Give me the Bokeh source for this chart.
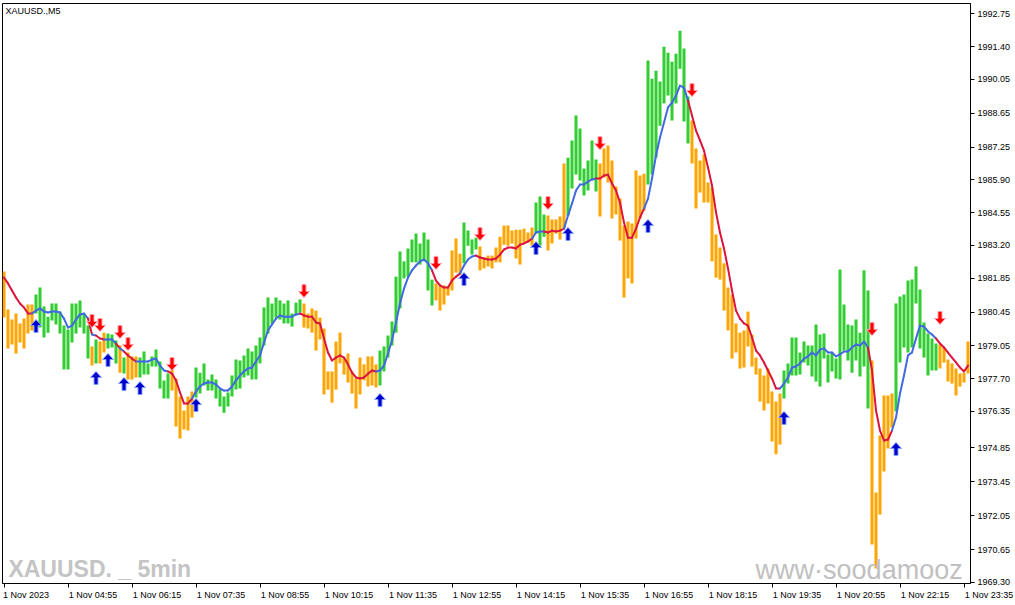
from bokeh.plotting import figure
from bokeh.models import Range1d, FixedTicker, PrintfTickFormatter, Label
from bokeh.core.properties import value
from bokeh.embed import file_html
from bokeh.resources import INLINE

# XAUUSD M5, 1 Nov 2023 03:35 .. 23:40, one entry per bar
highs = [
    1982.12, 1980.55, 1980.14, 1980.39, 1979.98, 1980.18, 1980.76, 1980.76, 1981.17, 1981.46,
    1980.68, 1980.26, 1980.80, 1980.80, 1980.47, 1979.89, 1979.73, 1980.80, 1980.80, 1980.93,
    1980.39, 1979.89, 1979.03, 1979.32, 1979.23, 1979.60, 1979.56, 1979.52, 1979.28, 1979.07,
    1978.57, 1978.78, 1978.62, 1978.62, 1978.57, 1978.82, 1978.33, 1978.62, 1978.90, 1978.41,
    1977.63, 1977.91, 1978.08, 1977.71, 1976.97, 1976.39, 1976.97, 1977.17, 1978.16, 1977.95,
    1978.33, 1977.67, 1977.87, 1977.67, 1977.30, 1976.97, 1977.13, 1977.83, 1978.49, 1978.45,
    1978.66, 1978.95, 1978.82, 1979.07, 1979.40, 1980.64, 1981.05, 1980.80, 1981.05, 1980.93,
    1980.80, 1980.93, 1980.39, 1980.84, 1980.97, 1980.80, 1980.39, 1980.60, 1980.51, 1980.22,
    1979.77, 1978.00, 1978.00, 1979.23, 1979.60, 1978.53, 1978.74, 1978.00, 1977.71, 1978.57,
    1978.29, 1978.62, 1978.62, 1978.29, 1978.86, 1979.03, 1979.48, 1980.06, 1981.91, 1982.95,
    1982.54, 1983.07, 1983.44, 1983.69, 1983.28, 1983.73, 1983.44, 1981.79, 1981.63, 1981.51,
    1981.55, 1981.51, 1982.99, 1983.48, 1982.86, 1984.14, 1983.81, 1983.44, 1983.52, 1983.15,
    1982.70, 1982.78, 1982.78, 1983.11, 1983.56, 1984.02, 1984.02, 1983.81, 1983.85, 1983.85,
    1983.89, 1983.73, 1983.94, 1984.97, 1985.22, 1984.47, 1984.43, 1984.27, 1984.27, 1984.39,
    1986.58, 1986.82, 1987.53, 1988.56, 1988.02, 1986.37, 1986.70, 1987.53, 1986.74, 1986.58,
    1987.20, 1987.32, 1986.70, 1985.63, 1985.13, 1984.02, 1984.19, 1984.10, 1986.29, 1986.08,
    1986.16, 1990.83, 1990.08, 1990.41, 1989.96, 1991.40, 1991.15, 1990.78, 1991.11, 1992.06,
    1991.32, 1989.34, 1988.35, 1987.20, 1986.70, 1986.95, 1985.79, 1985.59, 1983.65, 1983.11,
    1982.46, 1981.46, 1981.17, 1979.98, 1979.60, 1979.69, 1980.47, 1979.52, 1978.57, 1978.12,
    1977.83, 1978.12, 1977.17, 1976.76, 1977.09, 1978.04, 1978.33, 1979.40, 1979.40, 1978.78,
    1979.23, 1979.07, 1979.07, 1979.94, 1979.52, 1979.56, 1978.70, 1978.78, 1978.53, 1982.21,
    1980.76, 1979.94, 1979.89, 1980.14, 1979.60, 1982.17, 1981.34, 1978.45, 1973.00, 1975.36,
    1977.01, 1977.01, 1977.09, 1980.80, 1981.09, 1981.17, 1981.75, 1981.79, 1982.33, 1981.38,
    1980.02, 1979.56, 1979.36, 1979.15, 1979.11, 1978.99, 1978.49, 1978.33, 1978.12, 1977.91,
    1977.95, 1979.23,
]

lows = [
    1980.22, 1978.95, 1979.11, 1978.74, 1979.19, 1978.95, 1979.56, 1979.69, 1980.39, 1979.81,
    1979.40, 1979.60, 1980.10, 1979.94, 1979.56, 1978.08, 1978.08, 1979.19, 1979.56, 1979.81,
    1979.56, 1978.53, 1978.24, 1978.33, 1978.33, 1978.78, 1978.95, 1978.99, 1978.33, 1977.95,
    1977.91, 1977.67, 1977.67, 1977.75, 1977.75, 1977.87, 1977.87, 1978.20, 1978.20, 1977.30,
    1976.88, 1976.88, 1977.21, 1975.73, 1975.23, 1975.60, 1975.56, 1976.10, 1976.92, 1977.09,
    1977.42, 1977.21, 1977.21, 1976.88, 1976.55, 1976.30, 1976.55, 1976.97, 1977.25, 1977.30,
    1977.75, 1977.83, 1977.67, 1977.67, 1978.33, 1979.07, 1979.56, 1979.98, 1980.22, 1980.14,
    1979.98, 1979.98, 1979.85, 1980.31, 1980.43, 1979.81, 1979.77, 1979.60, 1978.86, 1979.32,
    1977.05, 1977.25, 1976.71, 1977.25, 1978.33, 1977.87, 1977.54, 1977.09, 1976.47, 1977.05,
    1977.63, 1977.38, 1977.42, 1977.34, 1977.42, 1978.00, 1978.57, 1979.07, 1979.60, 1980.60,
    1981.84, 1981.91, 1982.50, 1982.50, 1982.41, 1982.54, 1981.34, 1980.72, 1980.93, 1980.51,
    1980.76, 1981.13, 1981.34, 1982.08, 1981.96, 1982.46, 1983.19, 1982.82, 1983.03, 1982.17,
    1982.25, 1982.33, 1982.25, 1982.50, 1982.50, 1983.23, 1983.19, 1983.28, 1982.66, 1982.41,
    1983.32, 1983.32, 1983.19, 1983.69, 1983.19, 1983.56, 1982.99, 1983.28, 1983.69, 1983.44,
    1983.89, 1984.43, 1985.55, 1986.12, 1985.88, 1985.26, 1985.46, 1985.88, 1985.42, 1984.39,
    1986.00, 1985.79, 1984.31, 1984.47, 1983.40, 1981.05, 1981.84, 1981.63, 1983.48, 1984.31,
    1984.64, 1985.71, 1986.12, 1986.82, 1988.14, 1989.05, 1989.38, 1988.35, 1989.05, 1990.49,
    1988.31, 1987.40, 1986.58, 1984.72, 1985.38, 1984.97, 1984.97, 1982.54, 1981.87, 1981.79,
    1980.51, 1979.69, 1978.53, 1978.78, 1978.12, 1978.16, 1979.03, 1978.20, 1977.87, 1976.76,
    1976.39, 1976.68, 1975.11, 1974.58, 1974.99, 1976.88, 1977.50, 1977.83, 1977.83, 1977.87,
    1978.37, 1978.24, 1977.79, 1977.58, 1977.38, 1978.53, 1977.54, 1978.00, 1977.71, 1977.67,
    1978.86, 1978.45, 1977.95, 1978.45, 1977.79, 1978.20, 1976.47, 1970.86, 1969.87, 1972.10,
    1973.87, 1974.82, 1975.69, 1976.35, 1978.37, 1978.99, 1978.78, 1978.99, 1980.80, 1978.95,
    1978.57, 1977.83, 1978.04, 1978.04, 1978.12, 1978.37, 1977.58, 1977.50, 1977.01, 1977.38,
    1977.54, 1977.91,
]

# 1 = bullish bar (green), 0 = bearish bar (orange)
bull = [
    0, 0, 0, 0, 0, 0, 0, 0, 1, 1,
    1, 1, 1, 1, 1, 1, 1, 1, 1, 1,
    1, 1, 0, 1, 0, 0, 1, 1, 1, 0,
    1, 0, 0, 0, 1, 1, 1, 1, 1, 1,
    1, 1, 0, 0, 0, 0, 0, 0, 1, 1,
    1, 1, 1, 1, 1, 1, 1, 1, 1, 1,
    1, 1, 1, 1, 1, 1, 1, 1, 1, 1,
    1, 1, 1, 1, 1, 0, 0, 0, 0, 0,
    0, 0, 0, 0, 0, 0, 0, 0, 0, 0,
    0, 0, 0, 0, 1, 1, 1, 1, 1, 1,
    1, 1, 1, 1, 1, 1, 1, 1, 0, 0,
    0, 0, 0, 0, 0, 1, 1, 1, 1, 0,
    0, 0, 0, 0, 0, 0, 0, 0, 0, 0,
    0, 0, 0, 1, 1, 1, 0, 0, 0, 0,
    0, 1, 1, 1, 1, 1, 1, 1, 1, 0,
    0, 0, 0, 0, 0, 0, 0, 0, 0, 0,
    0, 1, 1, 1, 1, 1, 1, 1, 1, 1,
    1, 1, 0, 0, 0, 0, 0, 0, 0, 0,
    0, 0, 0, 0, 0, 0, 0, 0, 0, 0,
    0, 0, 0, 0, 0, 1, 1, 1, 1, 1,
    1, 1, 1, 1, 1, 1, 1, 1, 1, 1,
    1, 1, 1, 1, 1, 1, 1, 0, 0, 0,
    0, 0, 0, 1, 1, 1, 1, 1, 1, 1,
    1, 1, 1, 1, 0, 0, 0, 0, 0, 0,
    0, 0,
]

# smoothed trend line
trend_line = [
    1981.87, 1981.63, 1981.34, 1981.05, 1980.80, 1980.64, 1980.39, 1980.39, 1980.51, 1980.60,
    1980.47, 1980.43, 1980.47, 1980.47, 1980.43, 1980.18, 1979.81, 1979.89, 1980.14, 1980.35,
    1980.39, 1980.18, 1979.52, 1979.48, 1979.36, 1979.32, 1979.32, 1979.32, 1979.15, 1978.95,
    1978.82, 1978.66, 1978.53, 1978.41, 1978.41, 1978.41, 1978.41, 1978.49, 1978.53, 1978.24,
    1978.04, 1978.00, 1977.91, 1977.63, 1977.13, 1976.68, 1976.68, 1976.88, 1977.17, 1977.38,
    1977.50, 1977.54, 1977.54, 1977.46, 1977.30, 1977.21, 1977.21, 1977.38, 1977.63, 1977.83,
    1978.00, 1978.12, 1978.16, 1978.41, 1978.66, 1979.19, 1979.69, 1979.94, 1980.18, 1980.31,
    1980.26, 1980.26, 1980.26, 1980.35, 1980.39, 1980.31, 1980.26, 1980.26, 1980.02, 1979.98,
    1979.36, 1978.78, 1978.45, 1978.57, 1978.66, 1978.57, 1978.29, 1977.95, 1977.75, 1977.71,
    1977.75, 1977.91, 1978.04, 1978.00, 1978.04, 1978.24, 1978.74, 1979.28, 1980.02, 1980.80,
    1981.42, 1981.87, 1982.17, 1982.37, 1982.54, 1982.62, 1982.46, 1982.17, 1981.75, 1981.55,
    1981.46, 1981.46, 1981.75, 1981.91, 1982.04, 1982.37, 1982.62, 1982.74, 1982.78, 1982.70,
    1982.66, 1982.62, 1982.62, 1982.66, 1982.82, 1983.03, 1983.11, 1983.11, 1983.07, 1983.23,
    1983.28, 1983.36, 1983.48, 1983.73, 1983.77, 1983.77, 1983.73, 1983.81, 1983.77, 1983.81,
    1983.89, 1984.43, 1984.93, 1985.46, 1985.71, 1985.71, 1985.83, 1985.92, 1985.96, 1985.96,
    1986.08, 1986.12, 1985.75, 1985.46, 1984.97, 1984.14, 1983.52, 1983.52, 1983.89, 1984.35,
    1984.72, 1985.13, 1985.96, 1986.91, 1987.65, 1988.27, 1988.89, 1989.09, 1989.38, 1989.79,
    1989.71, 1989.18, 1988.56, 1987.94, 1987.53, 1987.11, 1986.41, 1985.67, 1984.56, 1983.73,
    1983.07, 1982.25, 1981.34, 1980.51, 1980.18, 1979.98, 1979.89, 1979.40, 1978.86, 1978.66,
    1978.37, 1978.04, 1977.71, 1977.30, 1977.30, 1977.50, 1977.75, 1978.16, 1978.20, 1978.33,
    1978.53, 1978.62, 1978.78, 1978.66, 1978.90, 1978.95, 1978.78, 1978.78, 1978.62, 1978.70,
    1978.82, 1978.82, 1978.99, 1979.11, 1979.07, 1979.23, 1978.99, 1978.04, 1976.39, 1975.56,
    1975.15, 1975.19, 1975.56, 1976.10, 1977.09, 1977.83, 1978.66, 1978.78, 1979.36, 1979.89,
    1979.85, 1979.65, 1979.52, 1979.36, 1979.15, 1978.99, 1978.78, 1978.57, 1978.37, 1978.16,
    1978.00, 1978.24,
]

# signal arrows: bar index and price of the arrow tip
buy_idx = [8, 23, 26, 30, 34, 48, 94, 115, 133, 141, 161, 195, 223]
buy_price = [1980.14, 1978.00, 1978.74, 1977.75, 1977.58, 1976.88, 1977.09,
             1982.08, 1983.36, 1983.94, 1984.27, 1976.35, 1975.07]
sell_idx = [22, 24, 29, 31, 42, 75, 108, 119, 136, 149, 172, 217, 234]
sell_price = [1979.81, 1979.65, 1979.36, 1978.86, 1978.04, 1981.05, 1982.21,
              1983.40, 1984.68, 1987.15, 1989.34, 1979.48, 1979.94]

y_ticks = [1992.75, 1991.40, 1990.05, 1988.65, 1987.25, 1985.90, 1984.55, 1983.20, 1981.85,
           1980.45, 1979.05, 1977.70, 1976.35, 1974.85, 1973.45, 1972.05, 1970.65, 1969.30]
x_ticks = list(range(0, 241, 16))
x_labels = ["1 Nov 2023", "1 Nov 04:55", "1 Nov 06:15", "1 Nov 07:35", "1 Nov 08:55",
            "1 Nov 10:15", "1 Nov 11:35", "1 Nov 12:55", "1 Nov 14:15", "1 Nov 15:35",
            "1 Nov 16:55", "1 Nov 18:15", "1 Nov 19:35", "1 Nov 20:55", "1 Nov 22:15",
            "1 Nov 23:35"]

FRAME_W, FRAME_H = 968, 580
X0, X1 = -0.375, 241.625
Y0, Y1 = 1969.25, 1993.18
FONT = "Liberation Sans"

GREEN, ORANGE = "#32cd32", "#ffa500"
BLUE, RED = "#4169e1", "#dc143c"

p = figure(frame_width=FRAME_W, frame_height=FRAME_H,
           x_range=Range1d(X0, X1), y_range=Range1d(Y0, Y1),
           y_axis_location="right", toolbar_location=None, output_backend="svg",
           min_border_left=2, min_border_top=3, min_border_right=45, min_border_bottom=22)
p.grid.visible = False
p.outline_line_color = "black"
p.outline_line_alpha = 1.0
p.background_fill_color = "white"
p.border_fill_color = "white"

for ax in (p.xaxis, p.yaxis):
    ax.axis_line_color = "black"
    ax.major_tick_line_color = "black"
    ax.major_tick_out = 4
    ax.major_tick_in = 0
    ax.minor_tick_out = 0
    ax.minor_tick_in = 0
    ax.major_label_text_font = FONT
    ax.major_label_text_font_size = "9px"
    ax.major_label_text_color = "black"

p.yaxis.ticker = FixedTicker(ticks=y_ticks)
p.yaxis.formatter = PrintfTickFormatter(format="%.2f")
p.yaxis.major_label_standoff = 3

# MT4 writes the time to the right of its tick: pad on the left so the
# centred label starts at the tick (the first one is pushed in by the edge)
p.xaxis.ticker = FixedTicker(ticks=x_ticks)
p.xaxis.major_label_overrides = {
    t: "\u00a0" * (1 if k == 0 else 20) + lab
    for k, (t, lab) in enumerate(zip(x_ticks, x_labels))
}
p.xaxis.major_label_standoff = 2

p.add_layout(Label(x=3, y=FRAME_H - 2, x_units="screen", y_units="screen",
                   text="XAUUSD.,M5", text_font=FONT, text_font_size="9px",
                   text_baseline="top", text_color="black"))

n = len(highs)
idx = list(range(n))

p.vbar(x=idx, width=0.76, top=highs, bottom=lows,
       fill_color=[GREEN if b else ORANGE for b in bull], line_color=None)

# trend colour flips at each signal arrow
flips = {i: 1 for i in buy_idx}
flips.update({i: -1 for i in sell_idx})
state = -1
trend = []
for i in idx:
    state = flips.get(i, state)
    trend.append(state)

p.segment(x0=idx[:-1], y0=trend_line[:-1], x1=idx[1:], y1=trend_line[1:],
          line_color=[BLUE if t > 0 else RED for t in trend[1:]],
          line_width=2, line_cap="round")

p.text(x=[1.1], y=[1969.83], text=["XAUUSD. _ 5min"],
       text_font=value(FONT), text_font_style="bold", text_font_size="23px",
       text_color="#c4c4c4", text_baseline="middle")
p.text(x=[187.9], y=[1969.80], text=["www\u00b7soodamooz"],
       text_font=value(FONT), text_font_size="27px", text_color="#c0c0c0",
       text_baseline="middle")

# arrow outline in pixels, tip at (0, 0), body pointing away from the tip
ppx = FRAME_W / (X1 - X0)
ppy = FRAME_H / (Y1 - Y0)
ARROW = [(0, 0), (5.5, 6), (2, 6), (2, 13), (-2, 13), (-2, 6), (-5.5, 6)]


def arrows(ids, tips, direction):
    xs = [[i + dx / ppx for dx, dy in ARROW] for i in ids]
    ys = [[tip - direction * dy / ppy for dx, dy in ARROW] for tip in tips]
    return xs, ys


bx, by = arrows(buy_idx, buy_price, 1)
p.patches(bx, by, fill_color="#0000cd", line_color="#7f9fff", line_width=1)
sx, sy = arrows(sell_idx, sell_price, -1)
p.patches(sx, sy, fill_color="#ff0000", line_color="#ff9fb0", line_width=1)

open("out.html", "w").write(file_html(p, INLINE))
